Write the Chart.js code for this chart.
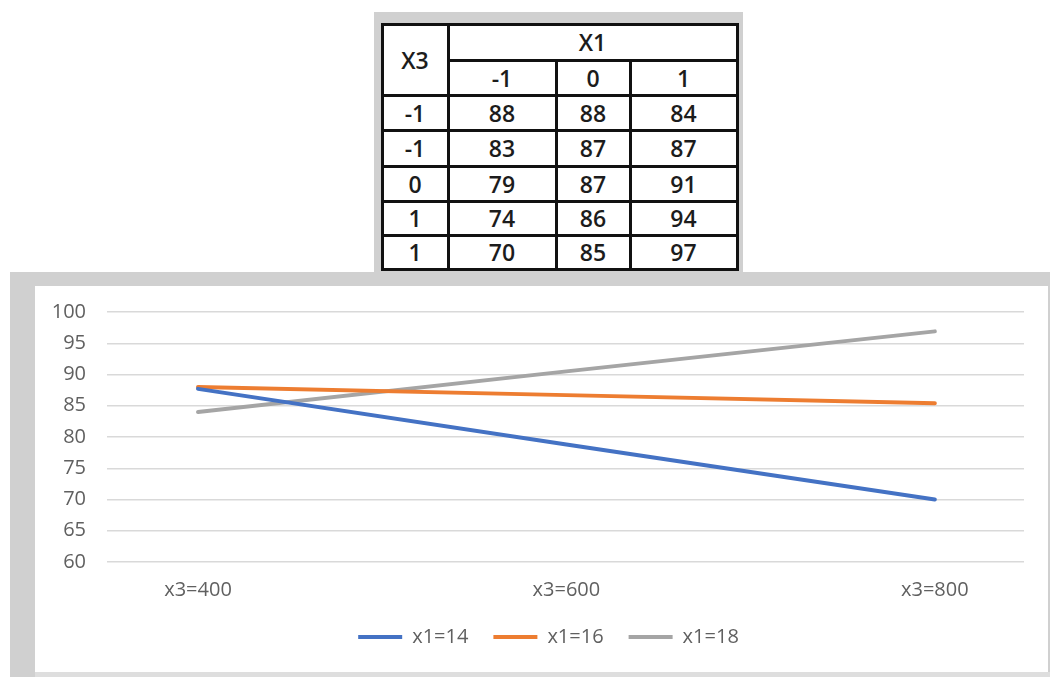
<!DOCTYPE html>
<html>
<head>
<meta charset="utf-8">
<script src="https://cdn.jsdelivr.net/npm/chart.js@4.4.0/dist/chart.umd.min.js"></script>
<style>
  html, body { margin: 0; padding: 0; background: #fff; width: 1050px; height: 677px; overflow: hidden; position: relative; font-family: "Open Sans", sans-serif; }
  #tableBox { position: absolute; left: 374px; top: 12px; width: 369px; height: 262px; background: #d0d0d0; }
  #grid { position: absolute; left: 380.5px; top: 23.2px; display: grid; background: #111; padding: 3px; gap: 3px;
          grid-template-columns: 63px 105px 71px 104px;
          grid-template-rows: 33px 32px 32px 33px 32px 31.3px 30.5px; }
  #grid div { background: #fff; display: flex; align-items: center; justify-content: center;
              font-size: 23px; font-weight: 600; color: #1c1c1c; line-height: 1; }
  #frame { position: absolute; left: 10px; top: 272px; width: 1040px; height: 405px; background: #d0d0d0; }
  #inner { position: absolute; left: 35px; top: 286px; width: 1013px; height: 386px; background: #fff; }
  #bottomStrip { position: absolute; left: 35px; top: 672px; width: 1015px; height: 5px; background: #dedede; }
  canvas { display: block; }
</style>
</head>
<body>
<div id="frame"></div>
<div id="bottomStrip"></div>
<div id="tableBox"></div>
<div id="grid"></div>
<div id="inner"><canvas id="chart" width="1013" height="386"></canvas></div>
<script>
// Response table: rows by X3 level, columns by X1 level
const rowHeader = 'X3';
const colHeader = 'X1';
const tableColLabels = ['-1', '0', '1'];
const tableRowLabels = ['-1', '-1', '0', '1', '1'];
const tableValues = [
  [88, 88, 84],
  [83, 87, 87],
  [79, 87, 91],
  [74, 86, 94],
  [70, 85, 97]
];

// Interaction plot
const xLabels = ['x3=400', 'x3=600', 'x3=800'];
const seriesNames = ['x1=14', 'x1=16', 'x1=18'];
const seriesX14 = [87.7, 78.8, 70];
const seriesX16 = [88, 86.7, 85.4];
const seriesX18 = [84, 90.5, 96.9];
const yTicks = { min: 60, max: 100, step: 5 };

// ---- table ----
const grid = document.getElementById('grid');
function cell(text, style) {
  const d = document.createElement('div');
  d.textContent = text;
  if (style) Object.assign(d.style, style);
  grid.appendChild(d);
}
cell(rowHeader, { gridRow: '1 / span 2', gridColumn: '1' });
cell(colHeader, { gridRow: '1', gridColumn: '2 / span 3' });
tableColLabels.forEach((c, i) => cell(c, { gridRow: '2', gridColumn: String(i + 2) }));
tableValues.forEach((row, r) => {
  cell(tableRowLabels[r], { gridRow: String(r + 3), gridColumn: '1' });
  row.forEach((v, c) => cell(String(v), { gridRow: String(r + 3), gridColumn: String(c + 2) }));
});

// ---- chart ----
const colors = ['#4472C4', '#ED7D31', '#A5A5A5'];
const series = [seriesX14, seriesX16, seriesX18];
const labelFont = { family: '"Open Sans", sans-serif', size: 20 };
const labelColor = '#606060';

const datasets = series.map((vals, i) => ({
  label: seriesNames[i],
  data: vals.map((v, j) => ({ x: j, y: v })),
  borderColor: colors[i],
  backgroundColor: colors[i],
  borderWidth: 4,
  borderCapStyle: 'round',
  pointRadius: 0,
  tension: 0
}));

// nudge the legend block a little to the right of the plot's centre
const legendShift = {
  id: 'legendShift',
  afterLayout(chart) { if (chart.legend) chart.legend.left += 38; }
};

new Chart(document.getElementById('chart'), {
  type: 'line',
  data: { datasets },
  plugins: [legendShift],
  options: {
    responsive: false,
    animation: false,
    layout: { padding: { top: 26, right: 24, bottom: 15, left: 0 } },
    scales: {
      x: {
        type: 'linear',
        min: -0.247,
        max: xLabels.length - 1 + 0.242,
        grid: { display: false, drawTicks: false },
        border: { display: false },
        afterBuildTicks: s => { s.ticks = xLabels.map((_, i) => ({ value: i })); },
        afterFit: s => { s.height = 40; },
        ticks: {
          padding: 16,
          maxRotation: 0,
          autoSkip: false,
          font: labelFont,
          color: labelColor,
          callback: v => xLabels[v]
        }
      },
      y: {
        min: yTicks.min,
        max: yTicks.max,
        grid: { color: '#d9d9d9', lineWidth: 1.5, drawTicks: false },
        border: { display: false },
        afterFit: s => { s.width = 72; s.paddingTop = 0; },
        ticks: { stepSize: yTicks.step, padding: 21, font: labelFont, color: labelColor }
      }
    },
    plugins: {
      tooltip: { enabled: false },
      legend: {
        position: 'bottom',
        labels: {
          boxWidth: 44,
          boxHeight: 4,
          padding: 25,
          font: labelFont,
          color: labelColor,
          generateLabels: chart =>
            Chart.defaults.plugins.legend.labels.generateLabels(chart).map(l => ({ ...l, lineWidth: 0 }))
        }
      }
    }
  }
});
</script>
</body>
</html>
